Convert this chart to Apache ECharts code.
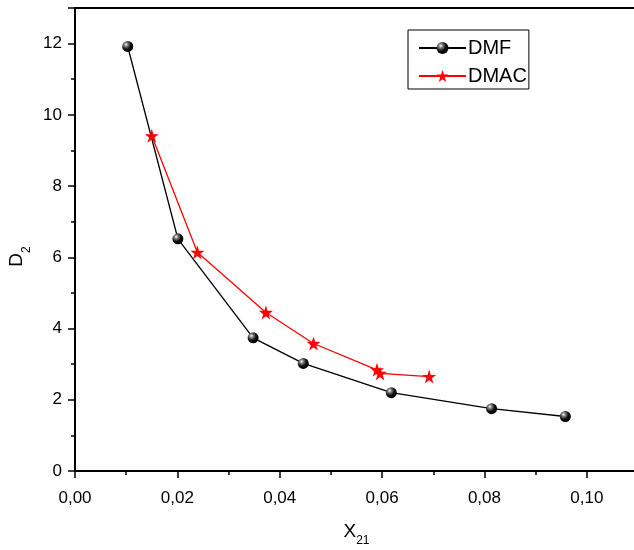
<!DOCTYPE html>
<html>
<head>
<meta charset="utf-8">
<script src="https://cdn.jsdelivr.net/npm/echarts@6/dist/echarts.min.js"></script>
<style>
  html, body { margin: 0; padding: 0; background: #fff; }
  #chart { width: 634px; height: 550px; }
</style>
</head>
<body>
<div id="chart"></div>
<script>
// Mole fraction X21 and D2 for the two solvents
const dmfX = [0.0103, 0.0201, 0.0348, 0.0446, 0.0618, 0.0814, 0.0958];
const dmfY = [11.92, 6.52, 3.74, 3.02, 2.20, 1.75, 1.53];
const dmacX = [0.0150, 0.0239, 0.0373, 0.0466, 0.0590, 0.0596, 0.0692];
const dmacY = [9.41, 6.14, 4.45, 3.58, 2.84, 2.74, 2.65];

const seriesNames = ['DMF', 'DMAC'];
const xTicks = [0, 0.02, 0.04, 0.06, 0.08, 0.10];
const yTicks = [0, 2, 4, 6, 8, 10, 12];

const FONT = '"Liberation Sans", Arial, sans-serif';
const starPath = 'path://M50,0 L61.2,34.5 L97.6,34.5 L68.2,55.9 L79.4,90.5 L50,69.1 L20.6,90.5 L31.8,55.9 L2.4,34.5 L38.8,34.5 Z';

const sphere = {
  type: 'radial', x: 0.35, y: 0.32, r: 0.7,
  colorStops: [
    { offset: 0, color: '#ffffff' },
    { offset: 0.22, color: '#8a8a8a' },
    { offset: 0.6, color: '#111111' },
    { offset: 1, color: '#000000' }
  ]
};

const zip = (xs, ys) => xs.map((x, i) => [x, ys[i]]);
const fmtComma = v => v.toFixed(2).replace('.', ',');

const nameRich = {
  a: { fontFamily: FONT, fontSize: 19, color: '#000', verticalAlign: 'bottom', lineHeight: 24 },
  b: { fontFamily: FONT, fontSize: 12, color: '#000', verticalAlign: 'bottom', lineHeight: 14, padding: [0, 0, -6, 0] }
};

const chart = echarts.init(document.getElementById('chart'), null, { renderer: 'canvas' });

chart.setOption({
  backgroundColor: '#ffffff',
  animation: false,
  grid: { left: 75, right: -4, top: 8, bottom: 79, containLabel: false, outerBoundsMode: 'none' },
  legend: {
    orient: 'vertical',
    left: 408,
    top: 30,
    padding: [8, 2, 3, 10],
    itemGap: 8,
    itemWidth: 47,
    itemHeight: 15,
    borderColor: '#000',
    borderWidth: 1,
    backgroundColor: '#fff',
    data: seriesNames,
    textStyle: { fontFamily: FONT, fontSize: 20, color: '#000', lineHeight: 20, padding: [0, 0, 0, -3] }
  },
  xAxis: [{
    type: 'value',
    min: 0, max: 0.11, interval: 0.02,
    name: '{a|X}{b|21}',
    nameLocation: 'middle',
    nameGap: 46,
    nameTextStyle: { rich: nameRich },
    axisLine: { show: true, onZero: false, lineStyle: { color: '#000', width: 2 } },
    axisTick: { show: true, inside: false, length: 7, lineStyle: { color: '#000', width: 1.5 } },
    minorTick: { show: true, splitNumber: 2, length: 4, lineStyle: { color: '#000', width: 1.5 } },
    axisLabel: {
      margin: 19,
      fontFamily: FONT, fontSize: 17, color: '#000',
      formatter: v => xTicks.some(t => Math.abs(t - v) < 1e-9) ? fmtComma(v) : ''
    },
    splitLine: { show: false }
  }, {
    type: 'value',
    position: 'top',
    min: 0, max: 0.11,
    axisLine: { show: true, onZero: false, lineStyle: { color: '#000', width: 2 } },
    axisTick: { show: false },
    axisLabel: { show: false },
    splitLine: { show: false }
  }],
  yAxis: {
    type: 'value',
    min: 0, max: 13, interval: 2,
    name: '{a|D}{b|2}',
    nameLocation: 'middle',
    nameGap: 48,
    nameRotate: 90,
    nameTextStyle: { rich: nameRich, padding: [0, 34, 0, 0] },
    axisLine: { show: true, onZero: false, lineStyle: { color: '#000', width: 2 } },
    axisTick: { show: true, inside: false, length: 7, lineStyle: { color: '#000', width: 1.5 } },
    minorTick: { show: true, splitNumber: 2, length: 4, lineStyle: { color: '#000', width: 1.5 } },
    axisLabel: {
      margin: 13,
      fontFamily: FONT, fontSize: 17, color: '#000',
      formatter: v => yTicks.includes(v) ? String(v) : ''
    },
    splitLine: { show: false }
  },
  series: [{
    name: seriesNames[0],
    type: 'line',
    data: zip(dmfX, dmfY),
    symbol: 'circle',
    symbolSize: 11,
    showAllSymbol: true,
    lineStyle: { color: '#000', width: 1.3 },
    itemStyle: { color: sphere, borderWidth: 0 },
    z: 3
  }, {
    name: seriesNames[1],
    type: 'line',
    data: zip(dmacX, dmacY),
    symbol: starPath,
    symbolSize: 14,
    showAllSymbol: true,
    lineStyle: { color: '#ff0000', width: 1.3 },
    itemStyle: { color: '#ff0000', borderWidth: 0 },
    z: 4
  }]
});
</script>
</body>
</html>
